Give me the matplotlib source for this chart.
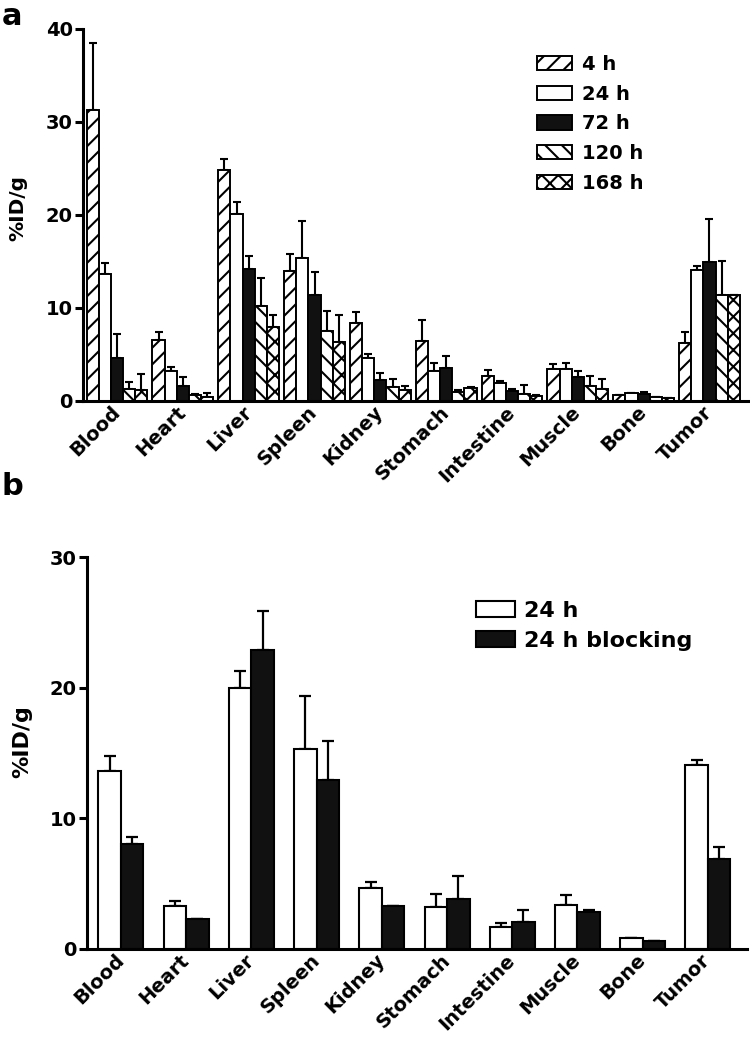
import matplotlib
matplotlib.use("Agg")
import matplotlib.pyplot as plt
import numpy as np

plt.rcParams['font.family'] = ['DejaVu Sans']
plt.rcParams['font.weight'] = 'bold'
plt.rcParams['hatch.linewidth'] = 1.5

organs = ["Blood", "Heart", "Liver", "Spleen", "Kidney",
          "Stomach", "Intestine", "Muscle", "Bone", "Tumor"]

# panel a: mean and top of error bar (%ID/g)
labels_a = ["4 h", "24 h", "72 h", "120 h", "168 h"]
h4 = [31.3, 6.6, 24.8, 14.0, 8.4, 6.4, 2.7, 3.4, 0.6, 6.2]
h4_top = [38.5, 7.4, 26.0, 15.8, 9.6, 8.7, 3.3, 4.0, 0.6, 7.4]
h24 = [13.7, 3.2, 20.1, 15.4, 4.6, 3.2, 1.9, 3.4, 0.9, 14.1]
h24_top = [14.8, 3.7, 21.4, 19.4, 5.1, 4.1, 2.1, 4.1, 0.9, 14.5]
h72 = [4.6, 1.6, 14.2, 11.4, 2.3, 3.5, 1.1, 2.6, 0.8, 14.9]
h72_top = [7.2, 2.6, 15.6, 13.9, 3.0, 4.8, 1.3, 3.2, 1.0, 19.6]
h120 = [1.3, 0.6, 10.2, 7.5, 1.5, 1.0, 0.8, 1.6, 0.4, 11.4]
h120_top = [2.0, 0.7, 13.2, 9.7, 2.4, 1.2, 1.7, 2.7, 0.4, 15.0]
h168 = [1.2, 0.4, 8.0, 6.3, 1.2, 1.4, 0.5, 1.3, 0.3, 11.4]
h168_top = [2.9, 0.9, 9.2, 9.2, 1.6, 1.5, 0.6, 2.4, 0.3, 11.4]

# panel b
labels_b = ["24 h", "24 h blocking"]
b24 = [13.6, 3.3, 20.0, 15.3, 4.7, 3.2, 1.7, 3.4, 0.85, 14.1]
b24_top = [14.8, 3.7, 21.3, 19.4, 5.1, 4.2, 2.0, 4.1, 0.85, 14.5]
blk = [8.0, 2.3, 22.9, 12.9, 3.3, 3.8, 2.1, 2.8, 0.6, 6.9]
blk_top = [8.6, 2.3, 25.9, 15.9, 3.3, 5.6, 3.0, 3.0, 0.6, 7.8]

BLACK = '#111111'

def style_axes(ax, ymax, step):
    for s in ['top', 'right']:
        ax.spines[s].set_visible(False)
    for s in ['left', 'bottom']:
        ax.spines[s].set_linewidth(2.2)
    ax.set_ylim(0, ymax)
    ax.set_yticks(np.arange(0, ymax + 1, step))
    ax.tick_params(axis='y', length=6, width=2.2, pad=1.5, labelsize=14)
    ax.tick_params(axis='x', length=0, pad=6, labelsize=14)
    ax.set_xticks(np.arange(len(organs)))
    ax.set_xticklabels(organs, rotation=45, ha='right', va='center',
                       rotation_mode='anchor', fontweight='bold')
    for t in ax.get_yticklabels():
        t.set_fontweight('bold')


fig = plt.figure(figsize=(7.5, 10.5), dpi=100)

# ---------- panel a
ax1 = fig.add_axes([0.1107, 0.6181, 0.887, 0.3543])
x = np.arange(len(organs))
w = 0.185
series = [(h4, h4_top, 'white', '//'),
          (h24, h24_top, 'white', ''),
          (h72, h72_top, BLACK, ''),
          (h120, h120_top, 'white', '\\\\'),
          (h168, h168_top, 'white', 'xx')]
for k, (vals, tops, fc, hatch) in enumerate(series):
    vals = np.array(vals)
    up = np.array(tops) - vals
    pos = x + (k - 2) * w
    ax1.bar(pos, vals, w, color=fc, edgecolor='black', linewidth=1.4,
            hatch=hatch, label=labels_a[k], zorder=2)
    ax1.errorbar(pos, vals, yerr=[np.zeros_like(up), up], fmt='none',
                 ecolor='black', elinewidth=1.5, capsize=2.6, capthick=1.5, zorder=1)
ax1.set_xlim(-0.517, 9.59)
style_axes(ax1, 40, 10)
ax1.set_ylabel("%ID/g", fontsize=14.5, fontweight='bold')
ax1.yaxis.set_label_coords(-0.084, 0.52)
ax1.legend(loc='upper left', bbox_to_anchor=(537 / 750, 1 - 55 / 1050),
           bbox_transform=fig.transFigure, frameon=False, fontsize=14,
           handlelength=1.8, handleheight=0.75, handletextpad=0.5,
           labelspacing=0.55, borderpad=0, borderaxespad=0)
fig.text(0.002, 0.998, "a", fontsize=22, fontweight='bold', va='top', ha='left')

# ---------- panel b
ax2 = fig.add_axes([0.116, 0.0962, 0.88, 0.3733])
wb = 0.345
for k, (vals, tops, fc) in enumerate([(b24, b24_top, 'white'), (blk, blk_top, BLACK)]):
    vals = np.array(vals)
    up = np.array(tops) - vals
    pos = x + (k - 0.5) * wb
    ax2.bar(pos, vals, wb, color=fc, edgecolor='black', linewidth=1.5,
            label=labels_b[k], zorder=2)
    ax2.errorbar(pos, vals, yerr=[np.zeros_like(up), up], fmt='none',
                 ecolor='black', elinewidth=1.6, capsize=4, capthick=1.6, zorder=1)
ax2.set_xlim(-0.52, 9.6)
style_axes(ax2, 30, 10)
ax2.set_ylabel("%ID/g", fontsize=16, fontweight='bold')
ax2.yaxis.set_label_coords(-0.083, 0.528)
ax2.legend(loc='upper left', bbox_to_anchor=(476 / 750, 1 - 601 / 1050),
           bbox_transform=fig.transFigure, frameon=False, fontsize=16,
           handlelength=1.75, handleheight=0.7, handletextpad=0.4,
           labelspacing=0.45, borderpad=0, borderaxespad=0)
fig.text(0.002, 1 - 472 / 1050, "b", fontsize=22, fontweight='bold', va='top', ha='left')

fig.savefig("out.png", dpi=100)
